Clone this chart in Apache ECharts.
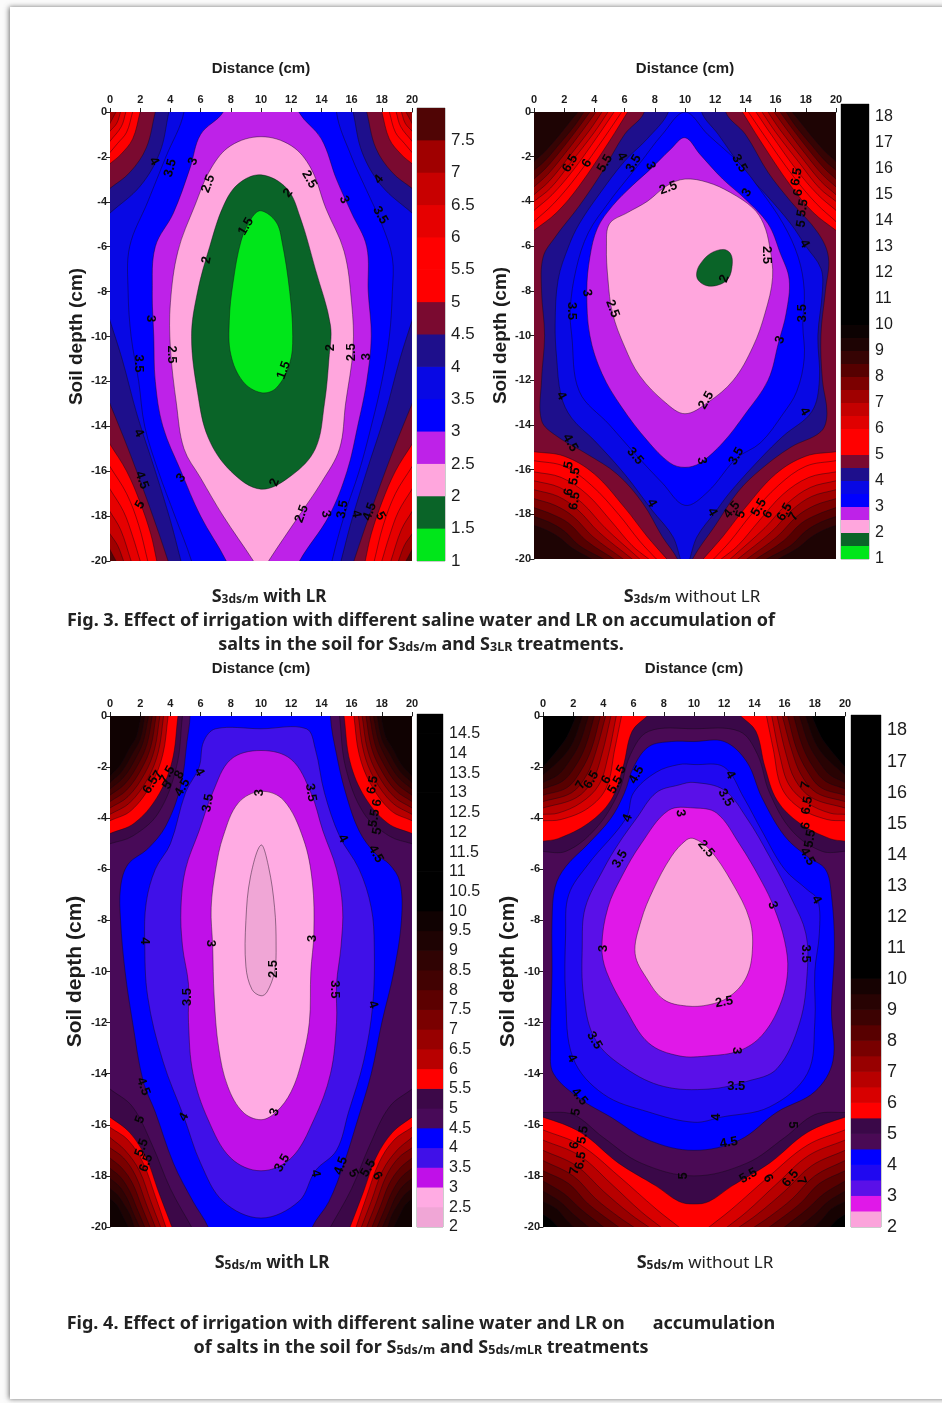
<!DOCTYPE html>
<html><head><meta charset="utf-8">
<script src="https://cdn.jsdelivr.net/npm/echarts@6/dist/echarts.min.js"></script>
<style>html,body{margin:0;padding:0;background:#fff}#c{width:942px;height:1403px;filter:blur(0.55px)}</style>
</head><body><div id="c"></div>
<script>
const xTicks=[0,2,4,6,8,10,12,14,16,18,20];
// band colours: bands[i] belongs to [min+i*0.5, min+(i+1)*0.5)
const bandsMinA=1, bandsA=['#00E61A','#0A6428','#FFA6DD','#BE22E8','#0000FF','#0808E4','#1E0F8C','#7A0A30','#FF0000','#FF0000','#E60000','#C80000','#A00000','#500505'];
const bandsMinB=1, bandsB=['#00E61A','#0A6428','#FFA6DD','#BE22E8','#0000FF','#0808E4','#1E0F8C','#7A0A30','#FF0000','#FF0000','#E00000','#C40000','#A00000','#7C0000','#560000','#360404','#1E0404','#0C0202'];
const bandsMinC=2, bandsC=['#F0A6D6','#FFABE3','#C010E8','#4010E8','#0000FF','#480A58','#3C0848','#FF0000','#B80000','#980000','#7A0000','#5C0000','#420202','#300303','#1E0303','#100202'];
const bandsMinD=2, bandsD=['#FBA3DB','#E018E8','#5A10E8','#2008F0','#0000FF','#4A0A55','#3A0848','#FF0000','#D80000','#B80000','#980000','#780000','#580000','#3C0202','#280303','#160202'];
const barTopA=8, barTopB=18.5, barTopC=15, barTopD=18.5;

// closed contours [level, points [distance, depth]]; outside-plot points only shape the crossing
const loopsA=[
[3.5,[[4.6,-1],[15.4,-1],[15,0],[16,2],[17,3.5],[18,5],[18.7,6.5],[18.7,8],[18.5,10],[18,12],[17.3,14],[16.5,16],[15.5,18],[14.7,20],[14.4,21],[5.7,21],[5.4,20],[4.3,18],[3.2,16],[2.3,14],[1.9,12],[1.4,10],[1.2,8],[1.3,6],[2.5,4],[3.7,2],[4.9,0]]],
[3,[[7.8,-1],[12.2,-1],[12.5,0],[14,1.2],[15,3],[16,4.5],[17,6],[17.1,8],[17.3,10],[17,12],[16.4,14],[15.7,16],[14.5,18],[12.55,20],[12,21],[8.2,21],[7.7,20],[6,18],[4.7,16],[3.5,14],[3,12],[2.9,10],[2.8,8],[3,6],[4.2,4.5],[5.3,2.5],[6,1],[7.5,0]]],
[2.5,[[10,1.1],[12,1.5],[13.3,2.5],[14.3,4.3],[15.5,6.2],[16,8.5],[16.1,10.5],[15.6,13],[15.2,15],[14,16.5],[12.5,18],[10.5,20],[10,20.6],[9.5,20],[7.5,18],[6,16.3],[4.9,15],[4.4,13],[4,10.5],[4,8.5],[4.5,6.2],[5.6,4.2],[6.7,2.5],[8,1.5]]],
[2,[[10,2.8],[11.7,3.4],[12.6,4.7],[13.6,7],[14.6,9.5],[14.5,11],[14.2,13],[13.6,15],[12,16.2],[10,16.8],[8,16],[6.5,14.5],[5.8,12.5],[5.4,10],[5.8,8],[6.6,6],[7.5,4.2],[8.5,3.2]]],
[1.5,[[10,4.4],[11,4.9],[11.4,5.8],[11.9,8],[12.1,10],[11.9,11.2],[11,12.3],[10,12.5],[8.8,12],[8,10.8],[7.9,9.3],[8.15,7.6],[8.7,5.7],[9.4,4.7]]]
];
const loopsB=[
[4.5,[[7,-1],[13,-1],[12.7,0],[14,1],[15.5,2.7],[17,4],[18.8,5.4],[19.5,6.5],[19.3,8],[19,10],[19.1,12],[19.4,13.5],[19,14.3],[17,15],[15,16],[13.5,17],[12,18.5],[10.5,20],[10,21],[9.5,20],[8.5,19],[7.2,17.5],[5.5,16.2],[3.5,15.3],[1.5,14.5],[0.5,13.8],[0.5,12],[0.7,10],[0.5,8],[0.6,6.5],[1.4,5.6],[3,4.2],[4.5,2.7],[6,1],[7.3,0]]],
[4,[[8.6,-0.6],[11.4,-0.6],[11.1,0],[12.2,1],[14,2.7],[15.5,3.8],[17,5],[18,6],[19,7],[19.1,8],[18.8,10],[18.9,12],[18.4,13.4],[16.5,14.5],[15,15.5],[13,17],[12,17.9],[10.8,19],[10,20.4],[9.2,19],[7.8,17.8],[6,16.2],[4,14.7],[2.5,13.7],[1.8,12.7],[1.5,11],[1.4,9.5],[1.6,7.5],[2.3,6],[3,5],[4.3,3.7],[6,2.2],[7.5,1.2],[8.9,0]]],
[3.5,[[10,0],[11.5,1],[13.6,2.3],[15,3.5],[16.5,5],[17.5,6.5],[17.9,8],[17.8,9.5],[17.9,11],[17.4,12.5],[16.5,13.5],[15,14.8],[13.4,15.5],[11.5,17],[10,17.6],[8.5,16.6],[6.7,15.3],[5,14],[3,12.5],[2.5,10],[2.4,8.8],[2.8,7],[3.6,5.4],[5,4],[5.8,3.3],[7,2.3],[8.5,1]]],
[3,[[10,1.15],[11,1.9],[12.5,3],[14,3.9],[15.5,5],[16.3,6.3],[16.9,7.5],[16.7,9],[16.2,10.3],[15.5,12],[14,13.5],[12.5,14.8],[11,15.7],[10,15.9],[9,15.7],[7.5,14.7],[5.8,13.2],[4.5,11.7],[3.7,10],[3.5,8],[3.7,6.5],[4.2,5.2],[5.2,4.2],[6.5,3.3],[7.8,2.5],[9,1.7]]],
[2.5,[[10,3],[11.5,3.15],[13,3.6],[14.5,4.3],[15.2,5],[15.6,6],[15.8,7.4],[15.3,9],[14.5,10.5],[13.2,12],[11.5,13],[10,13.5],[8.7,13],[7,11.8],[6,10.5],[5.2,9],[4.9,7.5],[4.8,6],[5,5],[6.2,4.5],[7.5,4],[8.8,3.3]]],
[2,[[10.77,7.21],[10.99,6.82],[11.66,6.34],[12.54,6.15],[13.02,6.34],[13.13,6.82],[12.87,7.45],[12.21,7.74],[11.43,7.77],[10.88,7.53]]]
];
const loopsC=[
[4.5,[[5.2,-1],[14.8,-1],[14.6,0],[15,1.5],[15.6,3],[16.5,4.5],[17.6,5.4],[18.5,5.8],[19.2,6.5],[19.3,8],[18.8,10],[18,12],[17.3,14],[16.3,16],[15.5,17.5],[14.5,19],[13.4,20],[13,21],[7,21],[6.5,20],[5.5,19],[4.2,17.5],[3,15.5],[2.2,14.3],[1.5,12],[1,10],[0.7,8],[0.7,6.7],[1.2,5.8],[2.5,5.2],[3.7,4.3],[4.7,2.7],[5.1,1],[5.3,0]]],
[4,[[7,0.5],[10,0.5],[13,0.5],[13.6,1.3],[14.2,3],[15.2,4.7],[16.5,6],[17.3,7.5],[17.5,9],[17.4,11.3],[16.8,13.5],[15.8,15.5],[15,17],[13.6,17.8],[12.5,19],[10,19.65],[7.5,19],[6,17.5],[4.9,15.7],[3.5,13.5],[2.5,11],[2.3,8.8],[2.4,7.3],[3,6],[4,5],[5,3],[5.9,2],[6.2,1]]],
[3.5,[[10,1.35],[12,1.7],[13.3,3],[14.1,4.5],[15,6],[15.4,7.5],[15.3,9],[15,10.5],[15,12],[14.6,14],[13.5,15.8],[12,17.3],[10,17.8],[8,17.3],[6.5,15.8],[5.5,14],[5.2,12],[5.2,10.5],[4.8,9],[4.7,7.5],[5,6],[5.9,4.5],[6.8,3],[8,1.7]]],
[3,[[10,2.95],[11.5,3.3],[12.8,4.8],[13.4,6.5],[13.5,8.5],[13.3,10],[13.2,12],[12.7,13.5],[12,14.7],[11,15.5],[10,15.8],[8.8,15.5],[7.8,14.5],[7.2,13],[6.9,11],[6.8,9],[6.7,7.5],[7,6],[7.5,4.7],[8.5,3.4]]],
[2.5,[[10,5.05],[10.5,5.9],[10.9,7.5],[11,9],[10.9,10],[10.4,10.8],[10,10.95],[9.4,10.7],[9,9.8],[9,8],[9.3,6.3]]]
];
const loopsD=[
[5,[[10,0.5],[13,0.6],[14.2,1.5],[15,3],[16.5,4.5],[18.5,5.3],[21,5.5],[21,15.2],[18,15.6],[16,16.5],[13.5,17.5],[10,18],[6.5,17.5],[4,16.5],[2,15.6],[-1,15.2],[-1,5.5],[1.5,5.3],[3.5,4.4],[5,3],[5.8,1.5],[7,0.6]]],
[4.5,[[10,1],[12,1],[13.5,1.8],[14.5,3.2],[16,4.7],[17.5,5.5],[18.7,6],[19.1,7],[19.3,9],[19.1,11.5],[19.2,13.5],[18,14.7],[15.5,15.5],[13,16.6],[10,17],[7,16.6],[4.5,15.7],[2.5,15],[0.7,14],[0.5,13],[0.6,10],[0.6,8],[0.8,6.7],[1.5,5.9],[3,5],[4.5,4],[5.4,3],[6,2],[7,1.2],[8.5,1]]],
[4,[[10,1.9],[12,2],[13.3,3.2],[14.5,4.5],[16,6],[17.5,6.8],[18.2,7.2],[18.3,8.5],[18,10],[18,12],[17.5,14],[15,15.3],[11.8,15.7],[10,15.9],[7,15.5],[4,14.8],[2,13.4],[1.5,11],[1.5,8.5],[1.7,7],[3,5.8],[5.5,4],[6,3],[7.5,2.2],[9,1.9]]],
[3.5,[[10,2.6],[12,2.9],[13.5,4],[15,5.5],[16.5,7.2],[17.4,8.5],[17.5,10],[17,12],[15.5,13.8],[13.5,14.3],[11,14.6],[8,14.5],[5.5,13.8],[3.5,12.7],[2.7,11],[2.6,9],[2.8,7.5],[4,6],[5,5],[6.2,4],[7.5,3],[9,2.7]]],
[3,[[10,3.6],[11.5,3.8],[13,5],[14.5,6.5],[15.3,7.5],[16,8.8],[16.2,10],[15.7,11.3],[14.5,12.5],[13,13.1],[11,13.3],[9,13.3],[7,12.8],[5.5,11.5],[4.2,10],[3.9,9],[4.3,7.5],[5.2,6.3],[6.5,5],[8.3,3.7]]],
[2.5,[[10,4.8],[11,5.2],[12.5,6.5],[13.7,8],[13.85,9.3],[13.4,10.3],[12.3,11],[11,11.3],[9.5,11.35],[8,11.1],[6.9,10.3],[6.1,9.3],[6.5,8],[7.3,6.8],[8.5,5.5],[9.5,4.85]]]
];

// corner contours, top-left and bottom-left; the right corners repeat them about x=10
const topCornersA=[
[4,[[3.9,0],[3.3,1.8],[2,3.3],[0,4.5]]],[4.5,[[3,0],[2.4,1.6],[1.3,2.7],[0,3.4]]],[5,[[2,0],[1.5,1.2],[.7,1.9],[0,2.3]]],
[5.5,[[1.5,0],[1.1,.9],[.5,1.4],[0,1.8]]],[6,[[1.05,0],[.75,.65],[0,1.3]]],[6.5,[[.7,0],[.45,.5],[0,.85]]],[7,[[.4,0],[.2,.25],[0,.5]]]];
const lowCornersA=[
[4,[[0,9.3],[.8,11],[1.8,13.5],[3,16],[4,18.2],[4.7,20]]],[4.5,[[0,13],[1.2,15],[2.2,16.8],[3.1,18.5],[3.85,20]]],
[5,[[0,14.8],[1.1,16],[2,17.4],[2.7,18.8],[3.1,20]]],[5.5,[[0,15.8],[1.1,17],[1.9,18.4],[2.5,20]]],[6,[[0,16.8],[.9,17.8],[1.5,18.9],[2,20]]],
[6.5,[[0,17.8],[.7,18.6],[1.4,20]]],[7,[[0,18.8],[.5,19.3],[.9,20]]],[7.5,[[0,19.5],[.2,19.75],[.4,20]]]];
const topCornersB=[
[5,[[6.2,0],[5,1.3],[3,3.3],[1.5,4.5],[0,5.3]]],[5.5,[[5.8,0],[4.7,1.1],[2.8,2.9],[1.3,4.1],[0,4.9]]],[6,[[5.3,0],[4.3,1],[2.6,2.6],[1.2,3.7],[0,4.4]]],
[6.5,[[4.9,0],[4,.9],[2.4,2.3],[1.1,3.4],[0,4]]],[7,[[4.5,0],[3.7,.8],[2.2,2.1],[1,3.1],[0,3.7]]],[7.5,[[4.1,0],[3.3,.75],[2,1.9],[.9,2.8],[0,3.35]]],
[8,[[3.7,0],[3,.65],[1.8,1.7],[.8,2.5],[0,3]]],[8.5,[[3.3,0],[2.7,.6],[1.6,1.5],[.7,2.2],[0,2.6]]],[9,[[2.9,0],[2.3,.5],[1.4,1.25],[.6,1.85],[0,2.2]]]];
const lowCornersB=[
[5,[[0,15.2],[2,15.4],[4,16.2],[6,17.7],[7.5,19],[8.8,20]]],[5.5,[[0,15.6],[2,15.85],[3.8,16.7],[5.6,18],[7,19.2],[8.1,20]]],[6,[[0,16.1],[1.8,16.35],[3.5,17.1],[5.1,18.3],[6.5,19.4],[7.6,20]]],
[6.5,[[0,16.5],[1.7,16.8],[3.2,17.5],[4.7,18.6],[7,20]]],[7,[[0,16.9],[1.6,17.2],[2.9,17.8],[4.3,18.8],[6.5,20]]],[7.5,[[0,17.3],[1.4,17.6],[2.6,18.1],[3.9,19],[5.9,20]]],
[8,[[0,17.7],[1.2,18],[2.3,18.4],[3.5,19.2],[5.3,20]]],[8.5,[[0,18.1],[1,18.35],[2,18.75],[3,19.4],[4.6,20]]],[9,[[0,18.5],[.8,18.7],[1.7,19.05],[2.5,19.5],[3.8,20]]]];
const topCornersC=[
[5,[[4.8,0],[4.4,2],[3.2,3.8],[1.5,4.7],[0,5]]],[5.5,[[4.5,0],[4.1,1.8],[3.1,3.2],[1.6,4.2],[0,4.6]]],[6,[[3.85,0],[3.5,1.5],[2.75,2.65],[1.4,3.7],[0,4.1]]],
[6.5,[[3.55,0],[3.2,1.4],[2.5,2.45],[1.3,3.4],[0,3.85]]],[7,[[3.3,0],[2.95,1.3],[2.3,2.25],[1.2,3.15],[0,3.6]]],[7.5,[[3.05,0],[2.7,1.2],[2.1,2.05],[1.1,2.9],[0,3.35]]],
[8,[[2.8,0],[2.45,1.1],[1.9,1.85],[1,2.65],[0,3.1]]],[8.5,[[2.55,0],[2.2,1],[1.7,1.65],[.9,2.4],[0,2.85]]],[9,[[2.3,0],[2,.9],[1.5,1.45],[.8,2.15],[0,2.6]]],
[9.5,[[2.05,0],[1.75,.8],[1.3,1.25],[.7,1.9],[0,2.35]]]];
const lowCornersC=[
[5,[[0,14.6],[1.5,15.3],[2.8,16.8],[4,18.5],[5.4,20]]],[5.5,[[0,15.7],[1.3,16.3],[2.4,17.3],[3.2,18.6],[4.1,20]]],[6,[[0,16.1],[1.2,16.6],[2.2,17.5],[3,18.8],[3.7,20]]],
[6.5,[[0,16.5],[1,17],[1.95,17.8],[2.7,19],[3.35,20]]],[7,[[0,16.9],[.9,17.3],[1.7,18],[2.4,19.1],[3,20]]],[7.5,[[0,17.3],[.8,17.7],[1.5,18.3],[2.1,19.2],[2.65,20]]],
[8,[[0,17.7],[.7,18.05],[1.3,18.6],[1.8,19.3],[2.3,20]]],[8.5,[[0,18.1],[.6,18.4],[1.1,18.85],[1.5,19.4],[1.95,20]]],[9,[[0,18.5],[.5,18.75],[.9,19.1],[1.3,19.5],[1.6,20]]],
[9.5,[[0,18.9],[.4,19.1],[.7,19.4],[1.2,20]]]];
const topCornersD=[
[5.5,[[6.9,0],[5.9,.6],[5.3,2],[4.5,3.3],[3,4.2],[1,4.8],[0,4.9]]],[6,[[5.2,0],[4.75,1.3],[4.2,2.8],[3,3.6],[1.2,4.05],[0,4.1]]],[6.5,[[4.85,0],[4.3,1.6],[3.7,2.7],[2.5,3.4],[1,3.8],[0,3.85]]],
[7,[[4.5,0],[3.9,1.5],[3.3,2.5],[2.2,3.2],[0,3.6]]],[7.5,[[4.15,0],[3.5,1.4],[2.9,2.3],[1.9,3],[0,3.35]]],[8,[[3.8,0],[3.2,1.3],[2.5,2.15],[1.6,2.8],[0,3.1]]],
[8.5,[[3.4,0],[2.8,1.2],[2.1,2],[1.3,2.55],[0,2.85]]],[9,[[3,0],[2.4,1.1],[1.7,1.8],[1,2.3],[0,2.6]]],[9.5,[[2.6,0],[2,1],[1.3,1.6],[0,2.3]]],[10,[[2.2,0],[1.6,.8],[1,1.3],[0,2]]]];
const lowCornersD=[
[6,[[0,16.2],[2.5,16.8],[5,18],[7.5,19.3],[9,20]]],[6.5,[[0,16.6],[2.4,17.2],[4.5,18.3],[6.5,19.4],[7.8,20]]],[7,[[0,17],[2.2,17.6],[4,18.6],[5.8,19.5],[7,20]]],
[7.5,[[0,17.4],[2,18],[3.5,18.9],[5,19.6],[6,20]]],[8,[[0,17.8],[1.7,18.3],[3,19.1],[5,20]]],[8.5,[[0,18.2],[1.4,18.7],[2.5,19.3],[4,20]]],[9,[[0,18.6],[1.1,19],[2,19.5],[3,20]]],
[9.5,[[0,19],[.9,19.3],[1.5,19.7],[2,20]]],[10,[[0,19.5],[.5,19.7],[1,20]]]];
// one contour of panel D runs right across the bottom
const acrossD=[[5.5,[[-1,15.6],[0,15.7],[2.5,16.3],[5,17.5],[7.5,18.4],[9,19],[10,19.1],[11,19],[12.5,18.4],[15,17.5],[17.5,16.3],[20,15.7],[21,15.6]]]];

// contour value labels [distance, depth, text, rotation in degrees]
const labelsA=[[2.9,2.2,'4',-60],[4,2.5,'3.5',75],[5.5,2.2,'3',70],[6.5,3.2,'2.5',70],[13.2,3,'2.5',-60],[11.8,3.6,'2',50],[17.8,3,'4',50],[15.5,3.9,'3',-70],[17.9,4.6,'3.5',-60],[9,5.1,'1.5',60],[6.4,6.6,'2',80],[2.7,9.2,'3',-90],[4.1,10.8,'2.5',-90],[1.9,11.2,'3.5',-90],[14.6,10.5,'2',90],[16,10.7,'2.5',90],[17,10.9,'3',90],[11.5,11.5,'1.5',70],[1.9,14.3,'4',-60],[2.1,16.4,'4.5',-70],[2,17.5,'5',60],[4.7,16.3,'3',50],[10.9,16.5,'2',70],[12.7,17.9,'2.5',70],[14.3,17.9,'3',-80],[15.4,17.7,'3.5',80],[16.3,17.9,'4',-80],[17.2,17.8,'4.5',70],[17.9,18,'5',-60]];
const labelsB=[[2.4,2.3,'6.5',60],[3.5,2.3,'6',60],[4.7,2.3,'5.5',60],[5.8,2,'4',-60],[6.6,2.3,'3.5',60],[7.7,2.4,'3',-70],[8.9,3.4,'2.5',20],[13.6,2.3,'3.5',-60],[14.1,3.6,'3',60],[17.4,2.9,'6.5',80],[17.5,3.6,'6',80],[17.8,4.3,'5.5',80],[17.7,5,'5',80],[17.9,5.9,'4',-60],[15.4,6.4,'2.5',-90],[12.6,7.45,'2',70],[3.5,8.1,'3',-80],[2.5,8.9,'3.5',-90],[5.2,8.8,'2.5',-70],[17.8,9,'3.5',90],[16.3,10.2,'3',70],[1.8,12.7,'4',-60],[17.9,13.4,'4',-60],[11.4,12.9,'2.5',60],[2.4,14.8,'4.5',-60],[6.7,15.4,'3.5',-50],[11.1,15.6,'3',-80],[13.4,15.4,'3.5',60],[2.3,15.8,'5',80],[2.7,16.3,'5.5',80],[2.3,17,'6',80],[2.7,17.4,'6.5',80],[7.8,17.5,'4',-60],[11.8,17.9,'4',-60],[13.1,17.8,'4.5',50],[13.7,18,'5',70],[14.9,17.7,'5.5',60],[15.5,18,'6',60],[16.6,17.9,'6.5',60],[17.2,18.1,'7',60]];
const labelsC=[[3.2,2.3,'7',60],[3.8,2.3,'7.5',60],[4.6,2.3,'8',60],[2.7,2.7,'6.5',60],[3.8,2.7,'5',60],[4.8,2.8,'4.5',60],[5.9,2.2,'4',-60],[6.5,3.4,'3.5',80],[9.9,3,'3',90],[13.3,3,'3.5',-80],[17.4,2.7,'6.5',80],[17.7,3.4,'6',80],[17.5,4,'5.5',80],[17.7,4.5,'5',80],[15.4,4.8,'4',-60],[17.6,5.4,'4.5',-60],[2.3,8.8,'4',-90],[6.65,8.9,'3',-90],[13.4,8.7,'3',90],[5.1,11,'3.5',90],[14.9,10.7,'3.5',-90],[10.8,9.9,'2.5',90],[17.4,11.3,'4',-70],[2.2,14.5,'4.5',-70],[10.9,15.5,'3',70],[2,15.8,'5',70],[4.9,15.7,'4',60],[2.1,16.9,'5.5',70],[2.4,17.5,'6.5',70],[11.4,17.5,'3.5',60],[13.6,17.9,'4',-80],[15.3,17.6,'4.5',70],[16.1,17.9,'5',-60],[17.1,17.7,'5.5',60],[17.7,18,'6',-60]];
const labelsD=[[2.5,2.7,'7',60],[3.2,2.5,'6.5',60],[4.2,2.5,'6',60],[4.8,2.7,'5.5',60],[5.2,2.1,'5',60],[6.2,2.3,'4.5',60],[12.4,2.3,'4',-60],[12.1,3.2,'3.5',-60],[9.1,3.8,'3',-80],[5.6,4,'4',70],[10.8,5.2,'2.5',-50],[5.1,5.6,'3.5',60],[17.5,5.5,'4.5',-60],[17.4,2.7,'7',80],[17.5,3.5,'6.5',80],[17.4,4.3,'6',80],[17.7,4.8,'5.5',80],[15.2,7.4,'3',-70],[18.1,7.2,'4',-60],[17.4,9.3,'3.5',-90],[4,9.1,'3',90],[12,11.2,'2.5',10],[3.4,12.7,'3.5',-60],[12.8,13.1,'3',-90],[1.9,13.4,'4',-60],[12.8,14.5,'3.5',0],[11.5,15.7,'4',90],[2.4,14.9,'4.5',-50],[16.5,16,'5',-90],[12.3,16.7,'4.5',10],[9.3,18,'5',90],[13.6,18,'5.5',30],[14.9,18.1,'6',-60],[16.4,18.1,'6.5',50],[17.1,18.2,'7',-70],[2.2,15.5,'5',80],[2.65,16.4,'5.5',80],[2.1,16.8,'6',80],[2.5,17.4,'6.5',80],[2.1,17.8,'7',80]];

const panels=[
 {box:[110,112,302,449],bar:[417,108,28,453],loops:loopsA,top:topCornersA,low:lowCornersA,across:[],bands:bandsA,min:bandsMinA,barTop:barTopA,step:.5,labels:labelsA,fs:17,yName:19,xGap:36},
 {box:[534,112,302,447],bar:[841,104,28,455],loops:loopsB,top:topCornersB,low:lowCornersB,across:[],bands:bandsB,min:bandsMinB,barTop:barTopB,step:1,labels:labelsB,fs:16,yName:19,xGap:36},
 {box:[110,716,302,511],bar:[417,714,26,513],loops:loopsC,top:topCornersC,low:lowCornersC,across:[],bands:bandsC,min:bandsMinC,barTop:barTopC,step:.5,labels:labelsC,fs:16,yName:21,xGap:40},
 {box:[543,716,302,511],bar:[851,715,30,512],loops:loopsD,top:topCornersD,low:lowCornersD,across:acrossD,bands:bandsD,min:bandsMinD,barTop:barTopD,step:1,labels:labelsD,fs:18,yName:21,xGap:40}
];
const sans="Liberation Sans";
const capFont="Noto Sans";

function colorOf(p,lo){const i=Math.round((lo-p.min)/.5);return i<p.bands.length?p.bands[i]:'#000000'}
function mirror(pts){return pts.map(q=>[20-q[0],q[1]])}
function extend(pts){const a=pts[0],b=pts[1],y=pts[pts.length-1],z=pts[pts.length-2];
 return [[a[0]+(a[0]-b[0])*.4,a[1]+(a[1]-b[1])*.4],...pts,[y[0]+(y[0]-z[0])*.4,y[1]+(y[1]-z[1])*.4]]}
function polysOf(p){
 const out=[];
 out.push({fill:colorOf(p,p.loops[0][0]),pts:[[-2,-2],[22,-2],[22,22],[-2,22]],smooth:0});
 p.loops.forEach(l=>out.push({fill:colorOf(p,l[0]-.5),pts:l[1],smooth:.36}));
 const arcs=[];
 p.top.forEach(a=>{arcs.push([a[0],[...extend(a[1]),[-3,-3]]]);arcs.push([a[0],[...extend(mirror(a[1])),[23,-3]]])});
 p.low.forEach(a=>{arcs.push([a[0],[...extend(a[1]),[-3,23]]]);arcs.push([a[0],[...extend(mirror(a[1])),[23,23]]])});
 p.across.forEach(a=>arcs.push([a[0],[...a[1],[23,23],[-3,23]]]));
 arcs.sort((u,v)=>u[0]-v[0]);
 arcs.forEach(a=>out.push({fill:colorOf(p,a[0]),pts:a[1],smooth:.36}));
 return out;
}

const grid=[],xAxis=[],yAxis=[],series=[];
panels.forEach((p,i)=>{
 const g=grid.length;
 grid.push({left:p.box[0],top:p.box[1],width:p.box[2],height:p.box[3]});
 xAxis.push({type:'value',gridIndex:g,position:'top',min:0,max:20,interval:2,name:'Distance (cm)',nameLocation:'middle',nameGap:p.xGap,
  nameTextStyle:{fontFamily:sans,fontWeight:'bold',fontSize:15,color:'#1c1c1c'},
  axisLine:{show:true,onZero:false,lineStyle:{color:'#222',width:1}},axisTick:{show:true,length:4,lineStyle:{color:'#222'}},splitLine:{show:false},
  axisLabel:{margin:7,fontFamily:sans,fontWeight:'bold',fontSize:11,color:'#1c1c1c',showMaxLabel:true,showMinLabel:true}});
 yAxis.push({type:'value',gridIndex:g,min:-20,max:0,interval:2,name:'Soil depth (cm)',nameLocation:'middle',nameGap:24,nameRotate:90,
  nameTextStyle:{fontFamily:sans,fontWeight:'bold',fontSize:p.yName,color:'#1c1c1c'},
  axisLine:{show:true,onZero:false,lineStyle:{color:'#222',width:1}},axisTick:{show:true,length:4,lineStyle:{color:'#222'}},splitLine:{show:false},
  axisLabel:{margin:3,fontFamily:sans,fontWeight:'bold',fontSize:11,color:'#1c1c1c',showMaxLabel:true,showMinLabel:true}});
 const polys=polysOf(p);
 series.push({type:'custom',coordinateSystem:'cartesian2d',xAxisIndex:g,yAxisIndex:g,clip:true,silent:true,z:2,
  data:polys.map((_,k)=>[k,0]),
  renderItem:(params,api)=>{const q=polys[api.value(0)];
   return {type:'polygon',shape:{points:q.pts.map(c=>api.coord([c[0],-c[1]])),smooth:q.smooth},
    style:{fill:q.fill,stroke:'rgba(15,10,20,0.8)',lineWidth:0.55}}}});
 series.push({type:'custom',coordinateSystem:'cartesian2d',xAxisIndex:g,yAxisIndex:g,clip:false,silent:true,z:3,
  data:p.labels.map(l=>[l[0],-l[1]]),
  renderItem:(params,api)=>{const l=p.labels[params.dataIndex],c=api.coord([l[0],-l[1]]);
   return {type:'text',x:c[0],y:c[1],rotation:l[3]*Math.PI/180,
    style:{text:l[2],fill:'#050505',font:"bold 13px "+sans,align:'center',verticalAlign:'middle'}}}});
 // colour bar
 const h=grid.length;
 grid.push({left:p.bar[0],top:p.bar[1],width:p.bar[2],height:p.bar[3],show:true,borderColor:'#999',borderWidth:1,backgroundColor:'transparent'});
 xAxis.push({type:'value',gridIndex:h,min:0,max:1,show:false});
 const lows=[];for(let v=p.min;v<p.barTop-1e-6;v+=.5)lows.push(v);
 yAxis.push({type:'value',gridIndex:h,position:'right',min:p.min,max:p.barTop,interval:p.step,
  axisLine:{show:false},axisTick:{show:false},splitLine:{show:false},
  axisLabel:{margin:6,fontFamily:sans,fontSize:p.fs,color:'#1c1c1c',showMaxLabel:false,showMinLabel:true,hideOverlap:false,formatter:v=>String(v)}});
 series.push({type:'custom',coordinateSystem:'cartesian2d',xAxisIndex:h,yAxisIndex:h,clip:true,silent:true,
  data:lows.map(v=>[0,v]),
  renderItem:(params,api)=>{const v=api.value(1),a=api.coord([0,Math.min(v+.5,p.barTop)]),b=api.coord([1,v]);
   return {type:'rect',shape:{x:a[0],y:a[1]-.7,width:b[0]-a[0],height:b[1]-a[1]+.7},style:{fill:colorOf(p,v)}}}});
});

const sub=(big,small,rest,restWeight)=>`{a|${big}}{b|${small}}{${restWeight}|${rest}}`;
const ink='#222222';
const capRich={a:{fontFamily:capFont,fontWeight:'bold',fontSize:18,color:ink},b:{fontFamily:capFont,fontWeight:'bold',fontSize:12,color:ink,padding:[6,0,0,0]},
 c:{fontFamily:capFont,fontWeight:'bold',fontSize:17,color:ink},d:{fontFamily:capFont,fontWeight:'normal',fontSize:17,color:ink}};
const figRich={a:{fontFamily:capFont,fontWeight:'bold',fontSize:18,color:ink},b:{fontFamily:capFont,fontWeight:'bold',fontSize:12.5,color:ink,padding:[6,0,0,0]}};
const title=[
 [269,588,sub('S','3ds/m',' with LR','c'),capRich],[692,588,sub('S','3ds/m',' without LR','d'),capRich],
 [272,1254,sub('S','5ds/m',' with LR','c'),capRich],[705,1254,sub('S','5ds/m',' without LR','d'),capRich],
 [421,612,'{a|Fig. 3. Effect of irrigation with different saline water and LR on accumulation of}',figRich],
 [421,635,'{a|salts in the soil for S}{b|3ds/m}{a| and S}{b|3LR}{a| treatments.}',figRich],
 [421,1315,'{a|Fig. 4. Effect of irrigation with different saline water and LR on      accumulation}',figRich],
 [421,1338,'{a|of salts in the soil for S}{b|5ds/m}{a| and S}{b|5ds/mLR}{a| treatments}',figRich]
].map(t=>({text:t[2],left:t[0],top:t[1],textAlign:'center',padding:0,textStyle:{rich:t[3]}}));

const chart=echarts.init(document.getElementById('c'),null,{renderer:'canvas'});
chart.setOption({animation:false,backgroundColor:'#fbfbfb',title,grid,xAxis,yAxis,series,
 graphic:[{type:'rect',z:-10,shape:{x:10,y:7,width:960,height:1392},style:{fill:'#fff',shadowBlur:5,shadowColor:'rgba(80,80,80,0.8)',shadowOffsetX:-1,shadowOffsetY:0}}]});
</script></body></html>
